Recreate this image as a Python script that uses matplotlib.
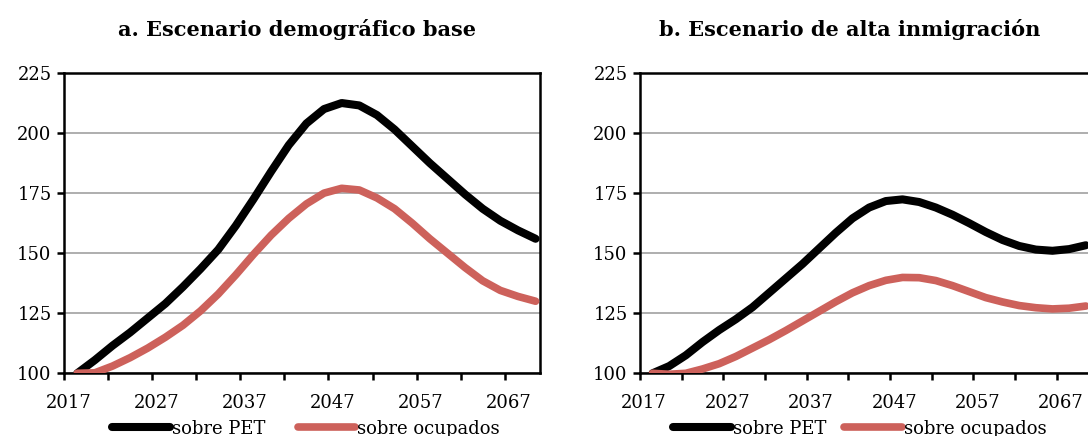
import matplotlib
matplotlib.use("Agg")
import matplotlib.pyplot as plt
import numpy as np

plt.rcParams['font.family'] = ['DejaVu Serif']

# años del índice (base 100)
years = [2018, 2020, 2022, 2024, 2026, 2028, 2030, 2032, 2034, 2036, 2038, 2040, 2042,
         2044, 2046, 2048, 2050, 2052, 2054, 2056, 2058, 2060, 2062, 2064, 2066, 2068, 2070]

# a. escenario demográfico base
base_pet = [100, 105.5, 111.5, 117, 123, 129, 136, 143.5, 151.5, 161.5, 172.5, 184, 195,
            204, 210, 212.5, 211.5, 207.5, 201.5, 194.5, 187.5, 181, 174.5, 168.5, 163.5, 159.5, 156]
base_ocup = [100, 100.2, 103, 106.5, 110.5, 115, 120, 126, 133, 141, 149.5, 157.5, 164.5,
             170.5, 175, 177, 176.3, 173, 168.5, 162.5, 156, 150, 144, 138.5, 134.5, 132, 130]

# b. escenario de alta inmigración
alta_pet = [100, 103, 107.5, 113, 118, 122.5, 127.5, 133.5, 139.5, 145.5, 152, 158.5, 164.5,
            169, 171.7, 172.4, 171.3, 169, 166, 162.5, 158.8, 155.5, 153, 151.5, 151, 151.7, 153.3]
alta_ocup = [100, 99.6, 100, 101.8, 104, 107, 110.5, 114, 117.8, 121.8, 125.8, 129.8, 133.5,
             136.5, 138.7, 139.9, 139.8, 138.6, 136.5, 134, 131.5, 129.7, 128.2, 127.3, 126.8, 127.1, 128]

titles = ['a. Escenario demográfico base', 'b. Escenario de alta inmigración']
labels = ['sobre PET', 'sobre ocupados']
year_labels = [2017, 2027, 2037, 2047, 2057, 2067]
yticks = [100, 125, 150, 175, 200, 225]

BLACK = '#000000'
RED = '#cd615b'

W, H = 1088, 436
fig = plt.figure(figsize=(W / 100, H / 100), dpi=100)

# posiciones en píxeles: (izq, ancho)
panels = [(64, 476), (640, 450)]
bottom_px, top_px = 373.3, 73
series = [(base_pet, base_ocup), (alta_pet, alta_ocup)]
title_x = [296.5, 850]
legend_x = [306, 860]
colspace = [1.8, 1.0]

for i, ((left, width), (pet, ocup)) in enumerate(zip(panels, series)):
    ax = fig.add_axes([left / W, 1 - bottom_px / H, width / W, (bottom_px - top_px) / H])
    l1, = ax.plot(years, pet, color=BLACK, lw=5.8, solid_capstyle='round',
                  solid_joinstyle='round', zorder=3)
    l2, = ax.plot(years, ocup, color=RED, lw=5.5, solid_capstyle='round',
                  solid_joinstyle='round', zorder=3)

    ax.set_xlim(2016.5, 2070.5)
    ax.set_ylim(100, 225)
    ax.set_yticks(yticks)
    ax.set_xticks(year_labels)
    ax.set_xticks(np.arange(2016.5, 2070, 5), minor=True)
    ax.tick_params(axis='x', which='major', length=0, pad=15, labelsize=13)
    ax.tick_params(axis='x', which='minor', length=5, width=1.8, direction='out')
    ax.tick_params(axis='y', which='major', length=5, width=1.8, pad=4, labelsize=13)
    ax.yaxis.grid(True, color='#a8a8a8', lw=1.3)
    ax.set_axisbelow(True)
    for s in ax.spines.values():
        s.set_linewidth(1.8)
        s.set_color('black')

    fig.text(title_x[i] / W, 1 - 30 / H, titles[i], ha='center', va='center',
             fontsize=15, fontweight='bold')

    ax.legend([l1, l2], labels, loc='center', bbox_to_anchor=(legend_x[i] / W, 1 - 428.5 / H),
              bbox_transform=fig.transFigure, ncol=2, frameon=False, fontsize=13,
              handlelength=3.2, handletextpad=0.1, columnspacing=colspace[i], borderpad=0)

fig.savefig('out.png', dpi=100)
